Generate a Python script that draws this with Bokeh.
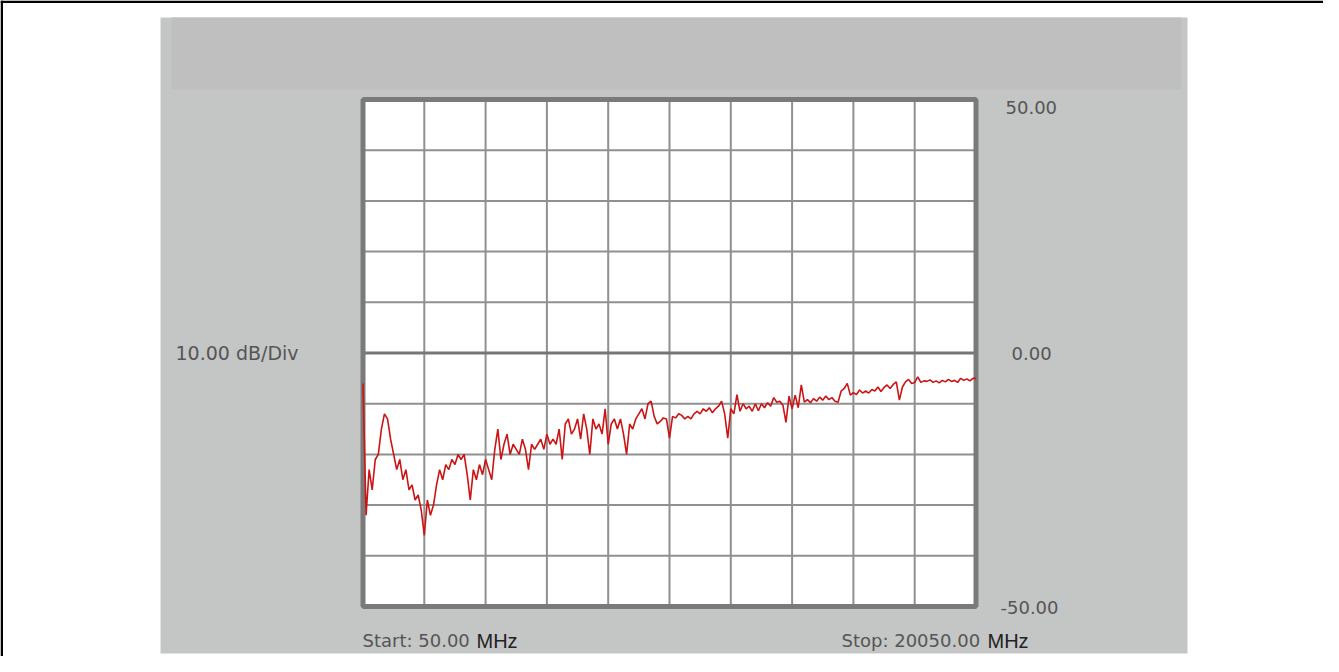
from bokeh.plotting import figure
from bokeh.models import Range1d
from bokeh.core.properties import value
from bokeh.embed import file_html
from bokeh.resources import INLINE

# ---------------- data ----------------
start_mhz = 50.0
stop_mhz = 20050.0
ref_top_db = 50.0
ref_bot_db = -50.0
db_per_div = 10.0
n_div = 10

freq_mhz = [
    50, 150, 250, 350, 450, 550, 650, 750, 850, 950,
    1050, 1150, 1250, 1350, 1450, 1550, 1650, 1750, 1850, 1950,
    2050, 2150, 2250, 2350, 2450, 2550, 2650, 2750, 2850, 2950,
    3050, 3150, 3250, 3350, 3450, 3550, 3650, 3750, 3850, 3950,
    4050, 4150, 4250, 4350, 4450, 4550, 4650, 4750, 4850, 4950,
    5050, 5150, 5250, 5350, 5450, 5550, 5650, 5750, 5850, 5950,
    6050, 6150, 6250, 6350, 6450, 6550, 6650, 6750, 6850, 6950,
    7050, 7150, 7250, 7350, 7450, 7550, 7650, 7750, 7850, 7950,
    8050, 8150, 8250, 8350, 8450, 8550, 8650, 8750, 8850, 8950,
    9050, 9150, 9250, 9350, 9450, 9550, 9650, 9750, 9850, 9950,
    10050, 10150, 10250, 10350, 10450, 10550, 10650, 10750, 10850, 10950,
    11050, 11150, 11250, 11350, 11450, 11550, 11650, 11750, 11850, 11950,
    12050, 12150, 12250, 12350, 12450, 12550, 12650, 12750, 12850, 12950,
    13050, 13150, 13250, 13350, 13450, 13550, 13650, 13750, 13850, 13950,
    14050, 14150, 14250, 14350, 14450, 14550, 14650, 14750, 14850, 14950,
    15050, 15150, 15250, 15350, 15450, 15550, 15650, 15750, 15850, 15950,
    16050, 16150, 16250, 16350, 16450, 16550, 16650, 16750, 16850, 16950,
    17050, 17150, 17250, 17350, 17450, 17550, 17650, 17750, 17850, 17950,
    18050, 18150, 18250, 18350, 18450, 18550, 18650, 18750, 18850, 18950,
    19050, 19150, 19250, 19350, 19450, 19550, 19650, 19750, 19850, 19950,
    20050,
]

trace_db = [
    -6, -32, -23, -27, -21, -20, -15, -12, -13, -17,
    -20, -23, -21, -25, -23, -27, -26, -29, -28, -31,
    -36, -29, -32, -30, -26, -23, -25, -22, -23, -21,
    -22, -20, -21, -20, -24, -29, -23, -25, -22, -24,
    -21, -23, -25, -19, -15, -21, -18, -16, -20, -18,
    -19, -20, -17, -19, -23, -18, -19, -18, -17, -19,
    -16, -18, -17, -18, -15, -21, -14, -13, -16, -15,
    -13, -17, -12, -15, -20, -13, -15, -14, -16, -11,
    -18, -14, -13, -15, -13, -16, -20, -14, -15, -13,
    -12, -11, -13, -10, -9.5, -12.5, -14, -13.5, -12.8, -13,
    -16.8, -12.5, -12.8, -12, -12.3, -13, -12.5, -13, -12, -11.5,
    -12, -11, -11.5, -10.8, -11.8, -11, -10.5, -9.5, -12, -16.8,
    -11, -12, -8.2, -11.5, -10, -11, -10.5, -11.5, -10, -11.4,
    -10, -10.8, -9.8, -10.5, -8.8, -9.7, -9.5, -10.3, -13.7, -8.5,
    -11, -8.3, -10.8, -6.3, -9.7, -9.2, -9.8, -9, -9.5, -8.7,
    -9.3, -8.5, -9.2, -8.8, -9.5, -9.7, -7.5, -7, -6, -8.3,
    -7.8, -8.2, -7.3, -7.9, -7.5, -7.9, -7.2, -7.5, -6.7, -7.6,
    -6.8, -6.3, -7, -6.2, -5.7, -9.3, -6.7, -5.7, -5.2, -6,
    -5.8, -4.7, -5.8, -5.5, -5.6, -5.3, -5.8, -5.5, -5.9, -5.4,
    -5.7, -5.2, -5.6, -5.4, -5.8, -5, -5.4, -5.1, -5.5, -5,
    -5,
]

scale_label = "10.00 dB/Div"
ref_labels = ["50.00", "0.00", "-50.00"]
start_label = "Start: 50.00"
stop_label = "Stop: 20050.00"
unit_label = "MHz"

# ---------------- layout (canvas pixels) ----------------
W, H = 1323, 656
L, R = 362.5, 975.5      # plot area left/right
T, B = 99.0, 606.0       # plot area top/bottom

sx = (R - L) / (stop_mhz - start_mhz)
sy = (B - T) / (ref_top_db - ref_bot_db)
x0 = start_mhz - L / sx
x1 = stop_mhz + (W - R) / sx
y1 = ref_top_db + T / sy
y0 = ref_bot_db - (H - B) / sy


def X(px):
    return x0 + px / sx


def Y(py):
    return y1 - py / sy


p = figure(width=W, height=H, x_range=Range1d(x0, x1), y_range=Range1d(y0, y1),
           x_axis_type=None, y_axis_type=None, toolbar_location=None,
           output_backend="svg", min_border=0, outline_line_color=None,
           background_fill_color="white", border_fill_color="white")
p.min_border_left = 0
p.min_border_right = 0
p.min_border_top = 0
p.min_border_bottom = 0

# page frame (top & left)
p.quad(left=[X(0)], right=[X(W)], top=[Y(0)], bottom=[Y(2.5)], color="black", line_color=None)
p.quad(left=[X(0)], right=[X(2.5)], top=[Y(0)], bottom=[Y(H)], color="black", line_color=None)

# gray instrument panel and header band
p.quad(left=[X(160)], right=[X(1187)], top=[Y(17)], bottom=[Y(653)],
       fill_color="#c4c5c5", line_color=None)
p.quad(left=[X(171)], right=[X(1181)], top=[Y(17)], bottom=[Y(89)],
       fill_color="#bfbfbf", line_color=None)

# white graticule
p.quad(left=[start_mhz], right=[stop_mhz], top=[ref_top_db], bottom=[ref_bot_db],
       fill_color="white", line_color=None)

step_x = (stop_mhz - start_mhz) / n_div
grid_x = [start_mhz + k * step_x for k in range(1, n_div)]
grid_y = [ref_bot_db + k * db_per_div for k in range(1, n_div) if ref_bot_db + k * db_per_div != 0]

p.segment(x0=grid_x, x1=grid_x, y0=[ref_bot_db] * len(grid_x), y1=[ref_top_db] * len(grid_x),
          line_color="#909090", line_width=2)
p.segment(x0=[start_mhz] * len(grid_y), x1=[stop_mhz] * len(grid_y), y0=grid_y, y1=grid_y,
          line_color="#909090", line_width=2)
p.segment(x0=[start_mhz], x1=[stop_mhz], y0=[0], y1=[0], line_color="#767676", line_width=3)

# outer border
p.quad(left=[start_mhz], right=[stop_mhz], top=[ref_top_db], bottom=[ref_bot_db],
       fill_color=None, line_color="#7a7a7a", line_width=5)

# trace
p.line(freq_mhz, trace_db, line_color="#cc1414", line_width=1.6)

# texts
gray = "#555555"
p.text(x=[X(175)], y=[0], text=[scale_label], text_font=value("DejaVu Sans"),
       text_font_size="19px", text_color=gray, text_baseline="middle", text_align="left")
p.text(x=[X(1005), X(1011), X(1000)], y=[Y(106.5), 0, Y(607)], text=ref_labels,
       text_font=value("DejaVu Sans"), text_font_size="18px", text_color=gray,
       text_baseline="middle", text_align="left")
p.text(x=[X(362), X(841)], y=[Y(640), Y(640)], text=[start_label, stop_label],
       text_font=value("DejaVu Sans"), text_font_size="18px", text_color=gray,
       text_baseline="middle", text_align="left")
p.text(x=[X(476), X(987)], y=[Y(640), Y(640)], text=[unit_label, unit_label],
       text_font=value("Liberation Sans"), text_font_size="20px", text_color="#222222",
       text_baseline="middle", text_align="left")

open("out.html", "w").write(file_html(p, INLINE))
